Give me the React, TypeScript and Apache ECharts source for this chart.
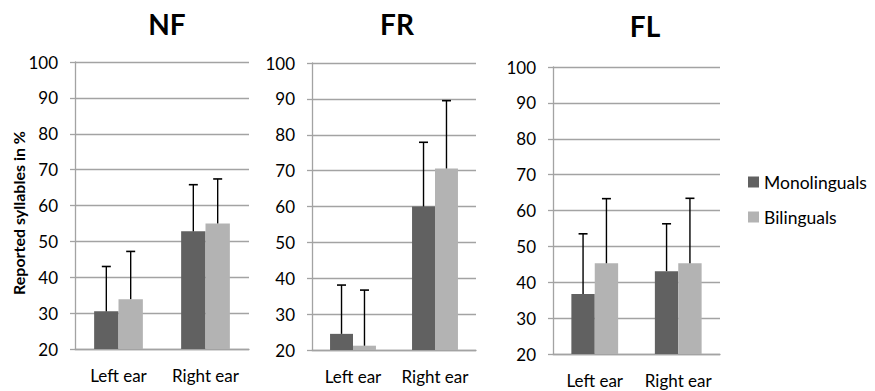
import React, { useEffect, useRef } from "react";
import * as echarts from "echarts";

const categories = ["Left ear", "Right ear"];
const panelTitles = ["NF", "FR", "FL"];
const seriesNames = ["Monolinguals", "Bilinguals"];

// means (%)
const nfMono = [30.5, 52.8];
const nfBili = [33.9, 55.0];
const frMono = [24.5, 60.0];
const frBili = [21.2, 70.6];
const flMono = [36.7, 43.1];
const flBili = [45.3, 45.3];

// upper error (SD)
const nfMonoErr = [12.5, 13.0];
const nfBiliErr = [13.3, 12.4];
const frMonoErr = [13.6, 17.9];
const frBiliErr = [15.5, 18.9];
const flMonoErr = [16.8, 13.2];
const flBiliErr = [18.0, 18.1];

const yTicks = [20, 30, 40, 50, 60, 70, 80, 90, 100];

const FONT = "Lato, 'Open Sans', sans-serif";
const DARK = "#616161";
const LIGHT = "#b3b3b3";
const GRIDC = "#a3a3a3";
const GAP = 0.44;

const grids = [
  { left: 75, top: 62, width: 174, height: 287 },
  { left: 312, top: 63, width: 164, height: 287 },
  { left: 553, top: 67, width: 167, height: 287 },
];
const titlePos = [
  [167, 24],
  [397, 24],
  [645, 26],
];

export default function App() {
  const ref = useRef<HTMLDivElement>(null);
  useEffect(() => {
    if (!ref.current) return;
    const chart = echarts.init(ref.current, undefined, { renderer: "svg" });
    const monos = [nfMono, frMono, flMono];
    const bilis = [nfBili, frBili, flBili];
    const monoErrs = [nfMonoErr, frMonoErr, flMonoErr];
    const biliErrs = [nfBiliErr, frBiliErr, flBiliErr];

    const series: any[] = [];
    for (let p = 0; p < 3; p++) {
      series.push({
        type: "bar",
        name: seriesNames[0],
        xAxisIndex: p,
        yAxisIndex: p,
        data: monos[p],
        itemStyle: { color: DARK },
        barGap: "0%",
        barCategoryGap: GAP * 100 + "%",
      });
      series.push({
        type: "bar",
        name: seriesNames[1],
        xAxisIndex: p,
        yAxisIndex: p,
        data: bilis[p],
        itemStyle: { color: LIGHT },
        barGap: "0%",
        barCategoryGap: GAP * 100 + "%",
      });
      const errData: number[][] = [];
      for (let c = 0; c < categories.length; c++) {
        errData.push([c, 0, monos[p][c], monos[p][c] + monoErrs[p][c]]);
        errData.push([c, 1, bilis[p][c], bilis[p][c] + biliErrs[p][c]]);
      }
      series.push({
        type: "custom",
        name: "err" + p,
        xAxisIndex: p,
        yAxisIndex: p,
        data: errData,
        encode: { x: 0, y: 3 },
        z: 10,
        renderItem: (params: any, api: any) => {
          const cat = api.value(0);
          const s = api.value(1);
          const v = api.value(2);
          const e = api.value(3);
          const base = api.coord([cat, v]);
          const top = api.coord([cat, e]);
          const band = api.size([1, 0])[0];
          const bw = (band * (1 - GAP)) / 2;
          const x = base[0] + (s === 0 ? -bw / 2 : bw / 2);
          return {
            type: "group",
            children: [
              {
                type: "line",
                shape: { x1: x, y1: base[1], x2: x, y2: top[1] },
                style: { stroke: "#000", lineWidth: 1.4 },
              },
              {
                type: "line",
                shape: { x1: x - 4.5, y1: top[1], x2: x + 4.5, y2: top[1] },
                style: { stroke: "#000", lineWidth: 1.6 },
              },
            ],
          };
        },
      });
    }

    const option: any = {
      animation: false,
      backgroundColor: "#fff",
      textStyle: { fontFamily: FONT },
      legend: {
        data: seriesNames,
        orient: "vertical",
        left: 748,
        top: 172,
        padding: 0,
        itemWidth: 11,
        itemHeight: 11,
        itemGap: 15,
        icon: "rect",
        textStyle: { fontFamily: FONT, fontSize: 17.5, color: "#000", lineHeight: 20 },
      },
      grid: grids.map((g) => ({ ...g })),
      xAxis: grids.map((_, i) => ({
        type: "category",
        gridIndex: i,
        data: categories,
        axisLine: { show: true, lineStyle: { color: GRIDC, width: 1.3 } },
        axisTick: { show: false },
        axisLabel: {
          color: "#000",
          fontSize: 17,
          fontFamily: FONT,
          margin: 18,
          interval: 0,
          hideOverlap: false,
        },
      })),
      yAxis: grids.map((_, i) => ({
        type: "value",
        gridIndex: i,
        min: yTicks[0],
        max: yTicks[yTicks.length - 1],
        interval: yTicks[1] - yTicks[0],
        axisLine: { show: true, lineStyle: { color: GRIDC, width: 1.3 } },
        axisTick: { show: true, length: 5, lineStyle: { color: GRIDC, width: 1.3 } },
        splitLine: { show: true, lineStyle: { color: GRIDC, width: 1.3 } },
        axisLabel: { color: "#000", fontSize: 17, fontFamily: FONT, margin: 17 },
      })),
      graphic: [
        ...panelTitles.map((t, i) => ({
          type: "text",
          x: titlePos[i][0],
          y: titlePos[i][1],
          style: {
            text: t,
            fontSize: 28,
            fontWeight: "bold",
            fontFamily: FONT,
            fill: "#000",
            textAlign: "center",
            textVerticalAlign: "middle",
          },
        })),
        {
          type: "text",
          x: 18,
          y: 213,
          rotation: Math.PI / 2,
          style: {
            text: "Reported syllables in %",
            fontSize: 16,
            fontWeight: "bold",
            fontFamily: FONT,
            fill: "#000",
            textAlign: "center",
            textVerticalAlign: "middle",
          },
        },
      ],
      series,
    };
    chart.setOption(option);
    return () => chart.dispose();
  }, []);
  return (
    <div
      ref={ref}
      style={{ position: "fixed", left: 0, top: 0, width: 875, height: 391, background: "#fff" }}
    />
  );
}
